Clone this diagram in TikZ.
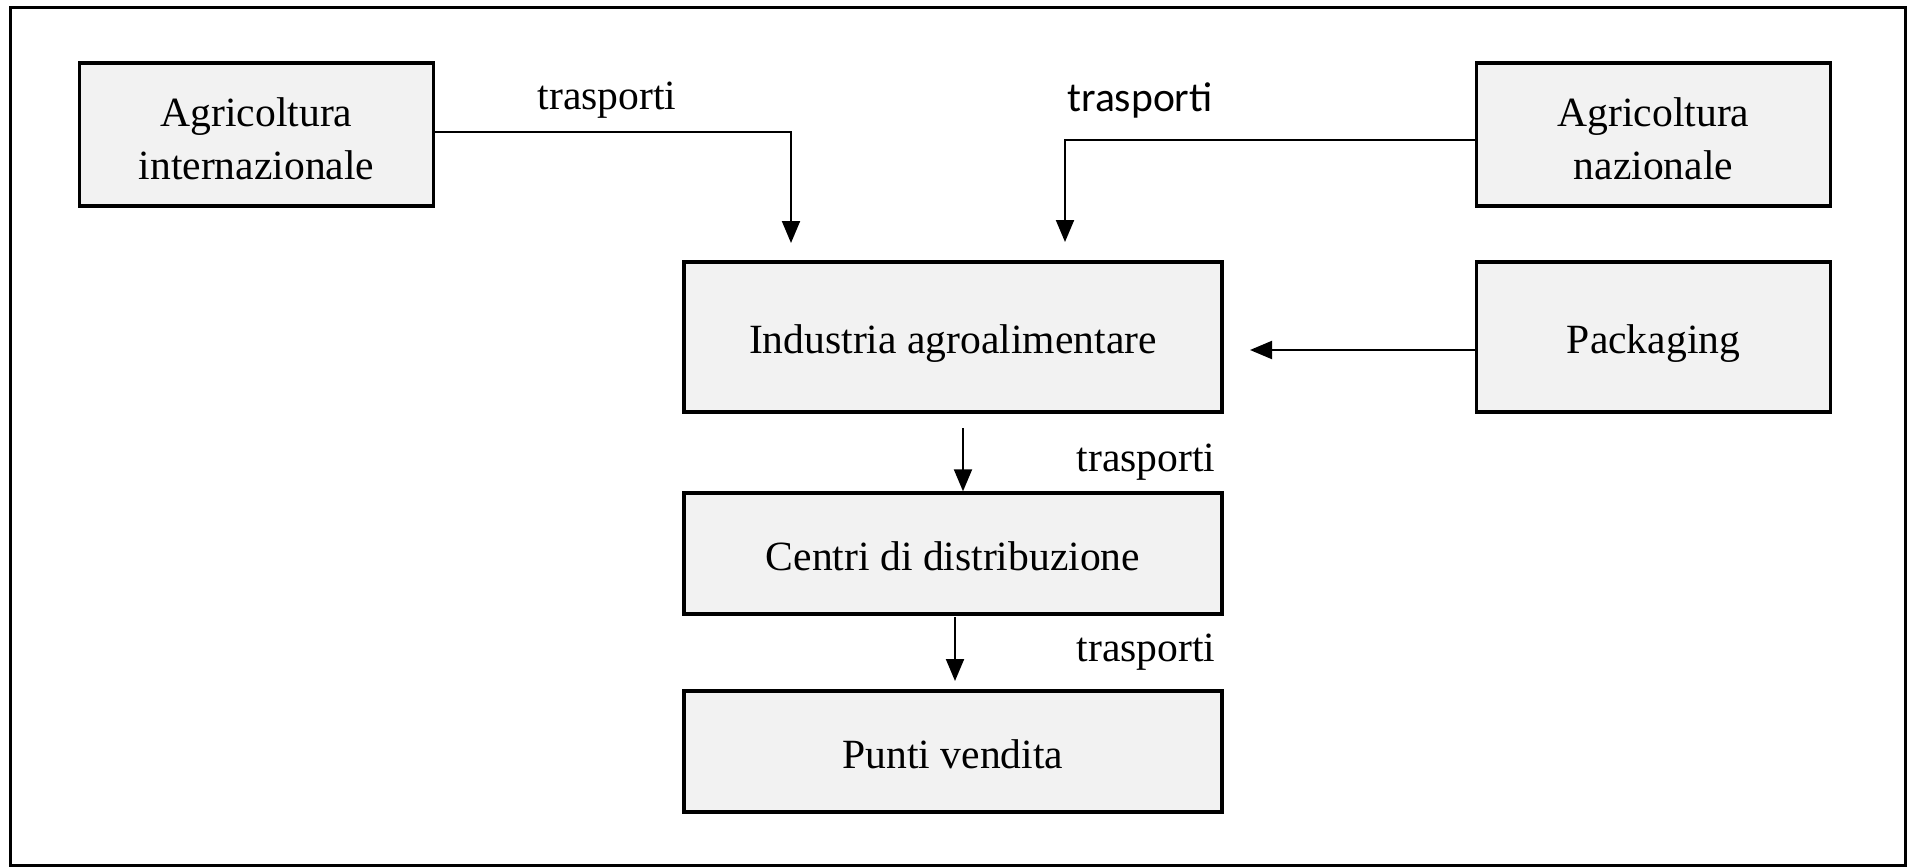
\documentclass[tikz,border=0pt]{standalone}
\usepackage{fontspec}
\setmainfont{Liberation Serif}
\newfontfamily\sansfnt{Carlito}
\usetikzlibrary{arrows.meta}
\definecolor{boxgray}{HTML}{F2F2F2}
\begin{document}
\begin{tikzpicture}[x=0.5pt,y=-0.5pt,
  box/.style={draw=black, line width=1.7pt, fill=boxgray, inner sep=0pt, align=center,
    font=\fontsize{20.8}{24.5}\selectfont},
  onebox/.style={box, text height=16.5pt, text depth=0pt},
  twobox/.style={box, font=\fontsize{20.8}{26.5}\selectfont, text height=44.5pt, text depth=0pt},
  conn/.style={line width=1pt, -{Triangle[width=9pt,length=11pt]}},
  lbl/.style={font=\fontsize{20.8}{24.5}\selectfont, inner sep=0pt}]
\useasboundingbox (0,0) rectangle (1908,868);
\draw[line width=1.5pt] (10,7) rectangle (1905,865);

\node[twobox, minimum width=177pt, minimum height=71.5pt] (ai) at (256.5,134.5) {Agricoltura\\internazionale};
\node[twobox, minimum width=177pt, minimum height=71.5pt] (an) at (1653.5,134.5) {Agricoltura\\nazionale};
\node[onebox, minimum width=269pt, minimum height=75pt] (ia) at (953,337) {Industria agroalimentare};
\node[onebox, minimum width=177pt, minimum height=75pt] (pk) at (1653.5,337) {Packaging};
\node[onebox, minimum width=269pt, minimum height=60.5pt] (ce) at (953,553.5) {Centri di distribuzione};
\node[onebox, minimum width=269pt, minimum height=60.5pt] (pv) at (953,751.5) {Punti vendita};

\coordinate (t1) at (791,243);
\coordinate (t2) at (1065,242);
\coordinate (t3) at (1250,350);
\coordinate (s4) at (963,428);
\coordinate (s5) at (955,617);
\coordinate (t5) at (955,681);

\draw[conn] ([yshift=1.5pt]ai.east) -| (t1);
\draw[conn] ([yshift=-2.75pt]an.west) -| (t2);
\draw[conn] ([yshift=-6.5pt]pk.west) -- (t3);
\draw[conn] (s4) -- (s4 |- ce.north);
\draw[conn] (s5) -- (t5);

\node[lbl] (l1) at (607,100) {trasporti};
\node[lbl, font=\sansfnt\fontsize{20.8}{24.5}\selectfont] (l2) at (1140,100) {trasporti};
\node[lbl] (l3) at (1146,462) {trasporti};
\node[lbl] (l4) at (1146,652) {trasporti};
\end{tikzpicture}
\end{document}
